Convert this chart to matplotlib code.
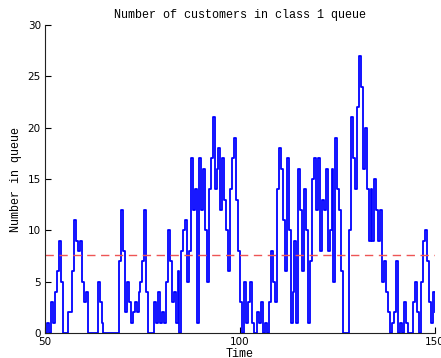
import numpy as np
import matplotlib
matplotlib.use("Agg")
import matplotlib.pyplot as plt

# Time grid (0.5 time-unit resolution) and queue lengths
t_start, t_end, t_step = 50.0, 150.0, 0.5
queue = [
    0, 1, 0, 3, 1, 4, 6, 9, 5, 0,
    0, 0, 2, 2, 6, 11, 9, 8, 9, 5,
    3, 4, 0, 0, 0, 0, 0, 5, 3, 1,
    0, 0, 0, 0, 0, 0, 0, 0, 7, 12,
    8, 2, 5, 3, 1, 2, 3, 2, 4, 5,
    7, 12, 4, 0, 0, 0, 3, 1, 4, 1,
    2, 1, 5, 10, 7, 3, 4, 1, 6, 0,
    8, 10, 11, 5, 8, 17, 12, 14, 1, 17,
    12, 16, 10, 5, 14, 17, 21, 14, 16, 18,
    12, 17, 13, 10, 6, 14, 17, 19, 13, 8,
    3, 0, 5, 1, 3, 5, 1, 0, 0, 2,
    1, 3, 0, 1, 0, 3, 8, 5, 3, 14,
    18, 16, 11, 6, 17, 10, 1, 4, 9, 1,
    16, 12, 6, 14, 10, 1, 7, 15, 17, 12,
    17, 8, 13, 12, 16, 8, 10, 16, 5, 19,
    14, 12, 6, 0, 0, 0, 10, 21, 17, 14,
    22, 27, 24, 16, 20, 14, 9, 14, 9, 15,
    12, 9, 12, 5, 7, 4, 2, 0, 1, 2,
    7, 0, 1, 0, 3, 1, 0, 0, 0, 3,
    5, 2, 0, 5, 9, 10, 7, 3, 1, 4,
    2,
]
mean_level = 7.6
x_ticks = [50, 100, 150]
y_ticks = [0, 5, 10, 15, 20, 25, 30]

times = np.arange(len(queue)) * t_step + t_start

fig = plt.figure(figsize=(4.41, 3.58), dpi=100)
ax = fig.add_axes([0.102, 0.070, 0.884, 0.860])

ax.plot(times, queue, drawstyle="steps-post", color="#0000ff", lw=1.3)
ax.axhline(mean_level, color="#ee5555", lw=1.0, ls=(0, (6, 4)))

ax.set_xlim(t_start, t_end)
ax.set_ylim(0, 30)
ax.set_xticks(x_ticks)
ax.set_yticks(y_ticks)
ax.tick_params(direction="in", length=4, width=0.8, labelsize=7.5, pad=3,
               top=False, right=False)
for s in ["top", "right"]:
    ax.spines[s].set_visible(False)
for s in ["left", "bottom"]:
    ax.spines[s].set_linewidth(0.8)
    ax.spines[s].set_color("#222222")

mono = "Liberation Mono"
ax.set_title("Number of customers in class 1 queue", family=mono, fontsize=8.5, pad=5)
ax.set_xlabel("Time", family=mono, fontsize=8.5, labelpad=1)
ax.set_ylabel("Number in queue", family=mono, fontsize=8.5, labelpad=4)

fig.savefig("out.png", dpi=100)
